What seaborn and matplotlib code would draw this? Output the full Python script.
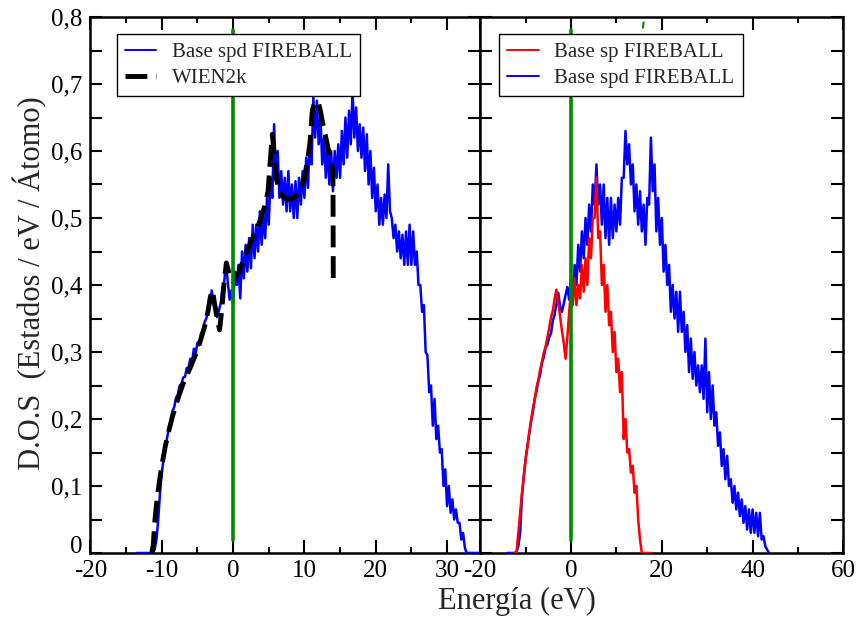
import numpy as np
import matplotlib
matplotlib.use("Agg")
import matplotlib.pyplot as plt
import matplotlib.transforms as mtransforms
import seaborn as sns
from matplotlib.ticker import FixedLocator, MultipleLocator

sns.set_style("ticks")
plt.rcParams["font.family"] = ["Liberation Serif", "DejaVu Serif"]

# ---------------- data ----------------
# Left panel: FIREBALL spd basis DOS on a uniform energy grid
SPD_LEFT_START, SPD_LEFT_STEP = -13.5, 0.25
spd_left_dos = [
    0, 0, 0, 0, 0, 0, 0, 0, 0, 0.001,
    0.005, 0.02, 0.05, 0.09, 0.12, 0.14, 0.158, 0.172, 0.187, 0.198,
    0.212, 0.218, 0.232, 0.236, 0.25, 0.252, 0.262, 0.263, 0.276, 0.277,
    0.29, 0.286, 0.305, 0.298, 0.314, 0.31, 0.328, 0.326, 0.345, 0.35,
    0.366, 0.37, 0.392, 0.372, 0.368, 0.352, 0.362, 0.372, 0.395, 0.405,
    0.432, 0.405, 0.378, 0.392, 0.372, 0.42, 0.40, 0.43, 0.38, 0.45,
    0.41, 0.46, 0.42, 0.47, 0.425, 0.49, 0.44, 0.49, 0.45, 0.51,
    0.46, 0.505, 0.47, 0.53, 0.49, 0.56, 0.53, 0.64, 0.56, 0.60,
    0.53, 0.57, 0.52, 0.56, 0.51, 0.57, 0.51, 0.55, 0.50, 0.555,
    0.50, 0.56, 0.52, 0.57, 0.53, 0.59, 0.545, 0.62, 0.58, 0.68,
    0.62, 0.675, 0.61, 0.65, 0.58, 0.62, 0.56, 0.61, 0.55, 0.60,
    0.54, 0.60, 0.56, 0.61, 0.56, 0.63, 0.58, 0.65, 0.59, 0.66,
    0.61, 0.69, 0.62, 0.665, 0.60, 0.64, 0.59, 0.635, 0.57, 0.625,
    0.55, 0.60, 0.53, 0.575, 0.51, 0.55, 0.49, 0.53, 0.49, 0.535,
    0.50, 0.58, 0.51, 0.50, 0.47, 0.49, 0.45, 0.48, 0.44, 0.475,
    0.43, 0.48, 0.43, 0.49, 0.43, 0.48, 0.43, 0.45, 0.40, 0.40,
    0.36, 0.37, 0.30, 0.295, 0.24, 0.25, 0.19, 0.23, 0.17, 0.19,
    0.15, 0.155, 0.10, 0.125, 0.07, 0.10, 0.06, 0.08, 0.05, 0.065,
    0.045, 0.045, 0.02, 0.03, 0.008, 0.0, 0, 0, 0, 0,
    0, 0, 0, 0,
]

# Left panel: WIEN2k DOS
wien_energy = [-11.4, -11.2, -11.0, -10.75, -10.5, -10.25, -10.0, -9.5, -9.0, -8.5,
               -8.0, -7.5, -7.0, -6.5, -6.0, -5.5, -5.0, -4.5, -4.0, -3.5,
               -3.2, -2.9, -2.6, -2.2, -1.9, -1.6, -1.25, -0.95, -0.5, 0.0,
               0.5, 0.9, 1.5, 2.0, 2.5, 3.0, 3.5, 4.0, 4.5, 4.9,
               5.2, 5.5, 5.8, 6.1, 6.5, 7.0, 7.5, 8.0, 8.5, 9.0,
               9.5, 10.0, 10.5, 10.8, 11.1, 11.4, 11.9, 12.2, 12.5, 13.0,
               13.5, 14.0, 14.05]
wien_dos = [0.0, 0.012, 0.045, 0.072, 0.094, 0.113, 0.13, 0.16, 0.183, 0.204,
            0.222, 0.238, 0.253, 0.265, 0.277, 0.29, 0.303, 0.32, 0.338, 0.362,
            0.382, 0.392, 0.372, 0.348, 0.333, 0.362, 0.405, 0.433, 0.415, 0.405,
            0.415, 0.42, 0.44, 0.452, 0.465, 0.476, 0.488, 0.503, 0.52, 0.54,
            0.585, 0.625, 0.59, 0.557, 0.54, 0.532, 0.528, 0.528, 0.53, 0.535,
            0.545, 0.56, 0.59, 0.615, 0.66, 0.672, 0.674, 0.662, 0.645, 0.62,
            0.595, 0.57, 0.40]

# Right panel: FIREBALL sp basis DOS
SP_RIGHT_START, SP_RIGHT_STEP = -12.4, 0.4
sp_right_dos = [
    0, 0.002, 0.03, 0.06, 0.09, 0.112, 0.14, 0.158, 0.18, 0.198,
    0.216, 0.228, 0.247, 0.258, 0.274, 0.285, 0.299, 0.308, 0.322, 0.336,
    0.352, 0.362, 0.38, 0.393, 0.374, 0.353, 0.332, 0.314, 0.29, 0.322,
    0.36, 0.39, 0.37, 0.41, 0.37, 0.40, 0.38, 0.43, 0.39, 0.44,
    0.40, 0.47, 0.44, 0.50, 0.50, 0.56, 0.47, 0.48, 0.40, 0.43,
    0.36, 0.40, 0.34, 0.36, 0.30, 0.33, 0.27, 0.29, 0.24, 0.27,
    0.17, 0.20, 0.15, 0.155, 0.12, 0.13, 0.09, 0.10, 0.05, 0.02,
    0, 0, 0, 0, 0, 0,
]

# Right panel: FIREBALL spd basis DOS
SPD_RIGHT_START, SPD_RIGHT_STEP = -14.0, 0.4
spd_right_dos = [
    0, 0, 0, 0, 0, 0.001, 0.01, 0.03, 0.085, 0.115,
    0.14, 0.16, 0.178, 0.196, 0.21, 0.23, 0.241, 0.257, 0.266, 0.284,
    0.292, 0.307, 0.311, 0.322, 0.328, 0.347, 0.356, 0.372, 0.388, 0.368,
    0.36, 0.372, 0.385, 0.397, 0.378, 0.41, 0.38, 0.43, 0.40, 0.46,
    0.42, 0.48, 0.44, 0.50, 0.46, 0.52, 0.48, 0.55, 0.52, 0.58,
    0.52, 0.55, 0.49, 0.55, 0.47, 0.53, 0.46, 0.53, 0.47, 0.52,
    0.48, 0.53, 0.49, 0.56, 0.56, 0.63, 0.58, 0.61, 0.55, 0.58,
    0.51, 0.55, 0.49, 0.54, 0.48, 0.52, 0.46, 0.53, 0.52, 0.62,
    0.54, 0.58, 0.48, 0.53, 0.46, 0.50, 0.42, 0.46, 0.40, 0.43,
    0.36, 0.40, 0.35, 0.39, 0.33, 0.39, 0.33, 0.36, 0.30, 0.34,
    0.27, 0.32, 0.26, 0.30, 0.25, 0.28, 0.24, 0.28, 0.23, 0.32,
    0.21, 0.27, 0.20, 0.25, 0.19, 0.21, 0.16, 0.18, 0.13, 0.155,
    0.11, 0.145, 0.10, 0.11, 0.075, 0.10, 0.065, 0.09, 0.055, 0.08,
    0.045, 0.07, 0.035, 0.065, 0.03, 0.065, 0.03, 0.06, 0.025, 0.06,
    0.02, 0.025, 0.01, 0.005, 0,
]

# Fermi level marker and a stray green mark
fermi_energy = [0.0, 0.0]
fermi_dos = [0.02, 0.78]
stray_energy = [15.85, 16.0]
stray_dos = [0.784, 0.792]

left_xticks = [-20, -10, 0, 10, 20, 30]
left_xtick_labels = ["-20", "-10", "0", "10", "20", "30"]
right_xticks = [-20, 0, 20, 40, 60]
right_xtick_labels = ["-20", "0", "20", "40", "60"]
yticks = [0, 0.1, 0.2, 0.3, 0.4, 0.5, 0.6, 0.7, 0.8]
ytick_labels = ["0", "0,1", "0,2", "0,3", "0,4", "0,5", "0,6", "0,7", "0,8"]

legend_left = ["Base spd FIREBALL", "WIEN2k"]
legend_right = ["Base sp FIREBALL", "Base spd FIREBALL"]

spd_left_energy = SPD_LEFT_START + SPD_LEFT_STEP * np.arange(len(spd_left_dos))
sp_right_energy = SP_RIGHT_START + SP_RIGHT_STEP * np.arange(len(sp_right_dos))
spd_right_energy = SPD_RIGHT_START + SPD_RIGHT_STEP * np.arange(len(spd_right_dos))

# ---------------- figure ----------------
W, H = 862, 618
fig = plt.figure(figsize=(W / 100, H / 100), dpi=100)


def rect(x0, y0, x1, y1):
    return [x0 / W, 1 - y1 / H, (x1 - x0) / W, (y1 - y0) / H]


axL = fig.add_axes(rect(90.5, 17, 480.2, 553))
axR = fig.add_axes(rect(480.2, 17, 843.4, 553))

BLUE = "#0000ff"
RED = "#ff0000"
GREEN = "#008a00"
NOISY_LW = 1.8

# left panel
sns.lineplot(x=spd_left_energy, y=spd_left_dos, ax=axL, color=BLUE, linewidth=NOISY_LW,
             estimator=None, sort=False, zorder=3)
sns.lineplot(x=wien_energy, y=wien_dos, ax=axL, color="black", linewidth=3.5,
             estimator=None, sort=False, zorder=4)
line_blue_L, line_wien = axL.lines[0], axL.lines[1]
line_wien.set_dashes((4.5, 1.8))
line_wien.set_dash_capstyle("butt")
sns.lineplot(x=fermi_energy, y=fermi_dos, ax=axL, color=GREEN, linewidth=2.6,
             estimator=None, sort=False, zorder=5)

# right panel
sns.lineplot(x=spd_right_energy, y=spd_right_dos, ax=axR, color=BLUE, linewidth=NOISY_LW,
             estimator=None, sort=False, zorder=3)
sns.lineplot(x=sp_right_energy, y=sp_right_dos, ax=axR, color=RED, linewidth=NOISY_LW,
             estimator=None, sort=False, zorder=4)
line_blue_R, line_red_R = axR.lines[0], axR.lines[1]
sns.lineplot(x=fermi_energy, y=fermi_dos, ax=axR, color=GREEN, linewidth=2.6,
             estimator=None, sort=False, zorder=5)
sns.lineplot(x=stray_energy, y=stray_dos, ax=axR, color=GREEN, linewidth=1.5,
             estimator=None, sort=False, zorder=5)

for ax in (axL, axR):
    ax.set_ylim(0, 0.8)
    ax.yaxis.set_major_locator(FixedLocator(yticks))
    ax.yaxis.set_minor_locator(MultipleLocator(0.05))
    ax.set_xlabel("")
    ax.set_ylabel("")
    for s in ax.spines.values():
        s.set_visible(True)
        s.set_linewidth(1.8)
        s.set_color("black")
    ax.tick_params(axis="both", which="both", direction="in", top=True, right=True,
                   bottom=True, left=True, width=1.5, colors="black", labelsize=18)
    ax.tick_params(axis="x", which="major", length=9.5, pad=5)
    ax.tick_params(axis="x", which="minor", length=4.5)
    ax.tick_params(axis="y", which="both", length=8.5, pad=6)

axL.set_xlim(-20, 34.65)
axL.xaxis.set_major_locator(FixedLocator(left_xticks))
axL.set_xticklabels(left_xtick_labels)
axL.xaxis.set_minor_locator(MultipleLocator(5))
axL.set_yticklabels(ytick_labels)

axR.set_xlim(-20, 60)
axR.xaxis.set_major_locator(FixedLocator(right_xticks))
axR.set_xticklabels(right_xtick_labels)
axR.xaxis.set_minor_locator(MultipleLocator(10))
axR.tick_params(axis="y", labelleft=False)

# lift the "0" y label a little so it clears the "-20" x label (as in the reference)
zero_label = axL.get_yticklabels()[0]
zero_label.set_transform(zero_label.get_transform() +
                         mtransforms.ScaledTranslation(0, 6 / 72, fig.dpi_scale_trans))

leg_kw = dict(loc="upper left", borderaxespad=0, fontsize=15, frameon=True,
              fancybox=False, edgecolor="black", framealpha=1, handlelength=1.5,
              handletextpad=0.75, borderpad=0.4, labelspacing=0.3)
legL = axL.legend([line_blue_L, line_wien], legend_left,
                  bbox_to_anchor=(0.067, 0.968), **leg_kw)
legL.get_frame().set_linewidth(1.0)
legR = axR.legend([line_red_R, line_blue_R], legend_right,
                  bbox_to_anchor=(0.052, 0.968), **leg_kw)
legR.get_frame().set_linewidth(1.0)
for leg in (legL, legR):
    for h in leg.legend_handles:
        if h.get_color() != "black":
            h.set_linewidth(1.4)

fig.text(30 / W, 1 - 283 / H, "D.O.S  (Estados / eV / Átomo)", rotation=90,
         ha="center", va="center", fontsize=22)
fig.text(517 / W, 1 - 601 / H, "Energía (eV)", ha="center", va="center", fontsize=22)

fig.savefig("out.png", dpi=100)
